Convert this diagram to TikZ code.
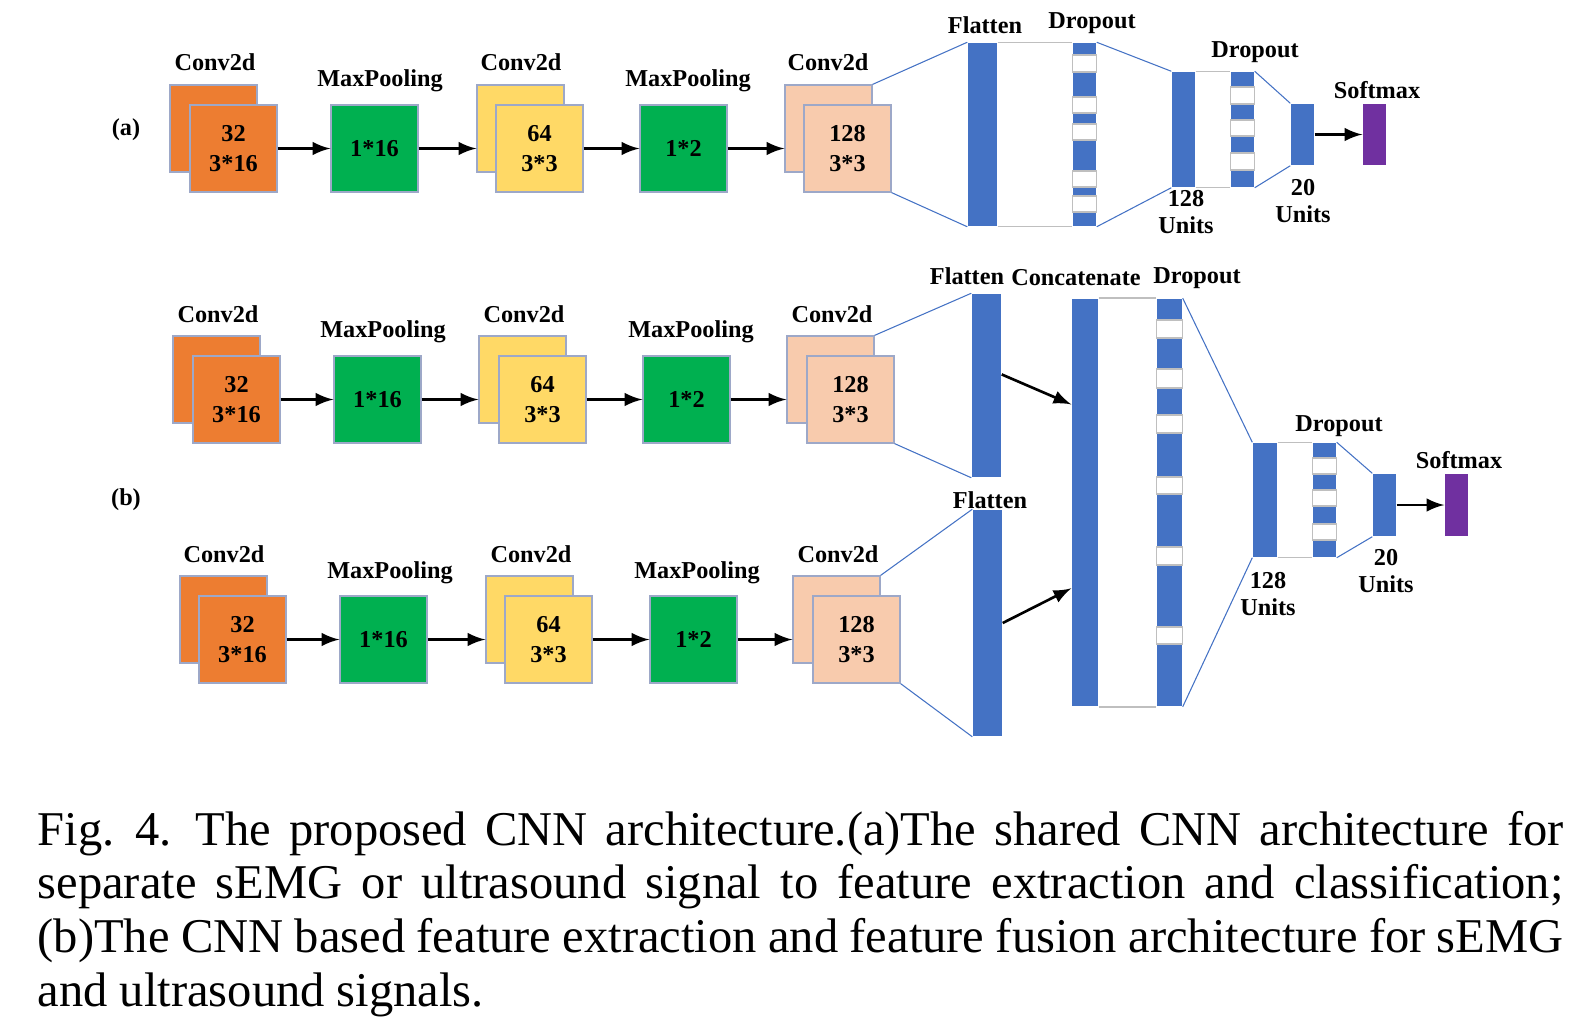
\documentclass[tikz,border=0pt]{standalone}
\usepackage{fontspec}
\setmainfont{Liberation Serif}
\usepackage{xcolor}
\usetikzlibrary{arrows, calc}

\definecolor{convA}{HTML}{ED7D31}
\definecolor{convB}{HTML}{FFD966}
\definecolor{convC}{HTML}{F8CBAD}
\definecolor{poolC}{HTML}{00B050}
\definecolor{denseC}{HTML}{4472C4}
\definecolor{softC}{HTML}{7030A0}
\definecolor{edgeC}{HTML}{9DA8C8}
\definecolor{gapC}{HTML}{BFBFBF}

\newcommand\capspace{\spaceskip=0.25em plus 0.3em minus 0.12em\relax
  \xspaceskip=0.3em plus 0.3em minus 0.1em\relax}

\tikzset{
  box/.style={draw=edgeC, line width=0.35pt, minimum width=0.87cm, minimum height=0.87cm, inner sep=0pt, align=center, font=\fontsize{6.9}{8.5}\selectfont\bfseries},
  lbl/.style={inner sep=0pt, align=center, font=\fontsize{6.9}{7.8}\selectfont\bfseries},
  bar/.style={fill=denseC, inner sep=0pt},
  arr/.style={-latex, line width=0.75pt},
  fan/.style={draw=denseC, line width=0.3pt},
  rim/.style={draw=gapC, line width=0.4pt}
}

\begin{document}
\begin{tikzpicture}[x=0.01cm, y=-0.01cm]
\useasboundingbox (0,0) rectangle (1584,1030);

% (a)
\node (la) [lbl] at (126,130) {(a)};
\node (a1b) [box, fill=convA] at (213.5,128.5) {};
\node (a1) [box, fill=convA] at (233.5,148.5) {32\\3*16};
\node (a2) [box, fill=poolC] at (374.5,148.5) {1*16};
\node (a3b) [box, fill=convB] at (520.5,128.5) {};
\node (a3) [box, fill=convB] at (539.5,148.5) {64\\3*3};
\node (a4) [box, fill=poolC] at (683.5,148.5) {1*2};
\node (a5b) [box, fill=convC] at (828.5,128.5) {};
\node (a5) [box, fill=convC] at (847.5,148.5) {128\\3*3};
\node (ta1) [lbl] at (215,62) {Conv2d};
\node (ta2) [lbl] at (380,81) {MaxPooling};
\node (ta3) [lbl] at (521,62) {Conv2d};
\node (ta4) [lbl] at (688,81) {MaxPooling};
\node (ta5) [lbl] at (828,62) {Conv2d};
\draw[arr] (a1.east) -- (a2.west);
\draw[arr] (a2.east) -- (a3b.west |- a2.east);
\draw[arr] (a3.east) -- (a4.west);
\draw[arr] (a4.east) -- (a5b.west |- a4.east);

\node (fa) [bar, minimum width=0.29cm, minimum height=1.83cm] at (982.5,134.5) {};
\node (da) [bar, minimum width=0.23cm, minimum height=1.83cm] at (1084.5,134.5) {};
\node (ea) [bar, minimum width=0.23cm, minimum height=1.15cm] at (1183.5,129.5) {};
\node (da2) [bar, minimum width=0.23cm, minimum height=1.15cm] at (1242.5,129.5) {};
\node (ua) [bar, minimum width=0.23cm, minimum height=0.61cm] at (1302.5,134.5) {};
\node (sa) [fill=softC, inner sep=0pt, minimum width=0.23cm, minimum height=0.61cm] at (1374.5,134.5) {};
\foreach \t/\b in {55/72, 97/113, 124/140, 171/187, 196/212}
  \draw[rim, fill=white] (da.west |- 0,\t) rectangle (da.east |- 0,\b);
\foreach \t/\b in {87/104, 120/136, 153/170}
  \draw[rim, fill=white] (da2.west |- 0,\t) rectangle (da2.east |- 0,\b);
\draw[fan] (a5b.north east) -- (fa.north west);
\draw[fan] (a5.south east) -- (fa.south west);
\draw[rim] (fa.north east) -- (da.north west);
\draw[rim] (fa.south east) -- (da.south west);
\draw[fan] (da.north east) -- (ea.north west);
\draw[fan] (da.south east) -- (ea.south west);
\draw[rim] (ea.north east) -- (da2.north west);
\draw[rim] (ea.south east) -- (da2.south west);
\draw[fan] (da2.north east) -- (ua.north west);
\draw[fan] (da2.south east) -- (ua.south west);
\draw[arr] (ua.east) -- (sa.west);
\node (tfa) [lbl] at (985,25) {Flatten};
\node (tda) [lbl] at (1092,23) {Dropout};
\node (tda2) [lbl] at (1255,52) {Dropout};
\node (tea) [lbl] at (1186,212) {128\\Units};
\node (tua) [lbl] at (1303,201) {20\\Units};
\node (tsa) [lbl] at (1377,90) {Softmax};

% (b)
\node (lb) [lbl] at (126,500) {(b)};
\node (b1b) [box, fill=convA] at (216.5,379.5) {};
\node (b1) [box, fill=convA] at (236.5,399.5) {32\\3*16};
\node (b2) [box, fill=poolC] at (377.5,399.5) {1*16};
\node (b3b) [box, fill=convB] at (522.5,379.5) {};
\node (b3) [box, fill=convB] at (542.5,399.5) {64\\3*3};
\node (b4) [box, fill=poolC] at (686.5,399.5) {1*2};
\node (b5b) [box, fill=convC] at (830.5,379.5) {};
\node (b5) [box, fill=convC] at (850.5,399.5) {128\\3*3};
\node (tb1) [lbl] at (218,314) {Conv2d};
\node (tb2) [lbl] at (383,332) {MaxPooling};
\node (tb3) [lbl] at (524,314) {Conv2d};
\node (tb4) [lbl] at (691,332) {MaxPooling};
\node (tb5) [lbl] at (832,314) {Conv2d};
\draw[arr] (b1.east) -- (b2.west);
\draw[arr] (b2.east) -- (b3b.west |- b2.east);
\draw[arr] (b3.east) -- (b4.west);
\draw[arr] (b4.east) -- (b5b.west |- b4.east);

\node (c1b) [box, fill=convA] at (223.5,619.5) {};
\node (c1) [box, fill=convA] at (242.5,639.5) {32\\3*16};
\node (c2) [box, fill=poolC] at (383.5,639.5) {1*16};
\node (c3b) [box, fill=convB] at (529.5,619.5) {};
\node (c3) [box, fill=convB] at (548.5,639.5) {64\\3*3};
\node (c4) [box, fill=poolC] at (693.5,639.5) {1*2};
\node (c5b) [box, fill=convC] at (836.5,619.5) {};
\node (c5) [box, fill=convC] at (856.5,639.5) {128\\3*3};
\node (tc1) [lbl] at (224,554) {Conv2d};
\node (tc2) [lbl] at (390,573) {MaxPooling};
\node (tc3) [lbl] at (531,554) {Conv2d};
\node (tc4) [lbl] at (697,573) {MaxPooling};
\node (tc5) [lbl] at (838,554) {Conv2d};
\draw[arr] (c1.east) -- (c2.west);
\draw[arr] (c2.east) -- (c3b.west |- c2.east);
\draw[arr] (c3.east) -- (c4.west);
\draw[arr] (c4.east) -- (c5b.west |- c4.east);

\node (fb) [bar, minimum width=0.29cm, minimum height=1.83cm] at (986.5,385.5) {};
\node (fc) [bar, minimum width=0.29cm, minimum height=2.26cm] at (987.5,623) {};
\node (cat) [bar, minimum width=0.26cm, minimum height=4.07cm] at (1085,502.5) {};
\node (db) [bar, minimum width=0.25cm, minimum height=4.07cm] at (1169.5,502.5) {};
\node (eb) [bar, minimum width=0.24cm, minimum height=1.14cm] at (1265,500) {};
\node (db2) [bar, minimum width=0.23cm, minimum height=1.14cm] at (1324.5,500) {};
\node (ub) [bar, minimum width=0.23cm, minimum height=0.62cm] at (1384.5,505) {};
\node (sb) [fill=softC, inner sep=0pt, minimum width=0.23cm, minimum height=0.62cm] at (1456.5,505) {};
\foreach \t/\b in {320/338, 369/388, 415/433, 477/494, 547/565, 627/644}
  \draw[rim, fill=white] (db.west |- 0,\t) rectangle (db.east |- 0,\b);
\foreach \t/\b in {458/474, 490/506, 524/540}
  \draw[rim, fill=white] (db2.west |- 0,\t) rectangle (db2.east |- 0,\b);
\draw[fan] (b5b.north east) -- (fb.north west);
\draw[fan] (b5.south east) -- (fb.south west);
\draw[fan] (c5b.north east) -- (fc.north west);
\draw[fan] (c5.south east) -- (fc.south west);
\draw[arr] ($(fb.north east)!0.44!(fb.south east)$) -- ($(cat.north west)!0.26!(cat.south west)$);
\draw[arr] (fc.east) -- ($(cat.north west)!0.71!(cat.south west)$);
\draw[rim] (cat.north east) -- (db.north west);
\draw[rim] (cat.south east) -- (db.south west);
\draw[fan] (db.north east) -- (eb.north west);
\draw[fan] (db.south east) -- (eb.south west);
\draw[rim] (eb.north east) -- (db2.north west);
\draw[rim] (eb.south east) -- (db2.south west);
\draw[fan] (db2.north east) -- (ub.north west);
\draw[fan] (db2.south east) -- (ub.south west);
\draw[arr] (ub.east) -- (sb.west);
\node (tfb) [lbl] at (967,276) {Flatten};
\node (tcat) [lbl] at (1076,278) {Concatenate};
\node (tdb) [lbl] at (1197,278) {Dropout};
\node (tfc) [lbl] at (990,500) {Flatten};
\node (tdb2) [lbl] at (1339,426) {Dropout};
\node (teb) [lbl] at (1268,594) {128\\Units};
\node (tub) [lbl] at (1386,571) {20\\Units};
\node (tsb) [lbl] at (1459,460) {Softmax};

% caption
\node (cap) [anchor=base west, inner sep=0pt, text width=15.25cm, font=\fontsize{13.8}{15.3}\selectfont] at (37,845) {\capspace
\hbox to 15.25cm{Fig. 4.\enspace The proposed CNN architecture.(a)The shared CNN architecture for}
\hbox to 15.25cm{separate sEMG or ultrasound signal to feature extraction and classification;}
\hbox to 15.25cm{(b)The CNN based feature extraction and feature fusion architecture for sEMG}
\hbox{and ultrasound signals.}};

\end{tikzpicture}
\end{document}
